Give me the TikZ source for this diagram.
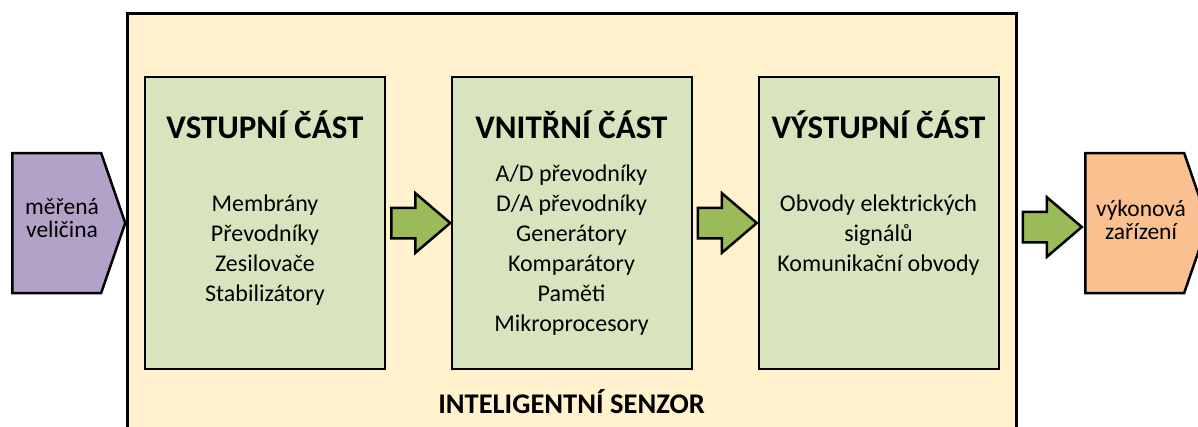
\documentclass[tikz,border=0pt]{standalone}
\usepackage{fontspec}
\setmainfont{Carlito}
\usetikzlibrary{shapes.arrows, shapes.symbols, calc}

\definecolor{senzorfill}{HTML}{FFF2CC}
\definecolor{partfill}{HTML}{D7E4BD}
\definecolor{arrowfill}{HTML}{9BBB59}
\definecolor{inputfill}{HTML}{B3A2C7}
\definecolor{outputfill}{HTML}{FAC090}

\begin{document}
\begin{tikzpicture}[x = 1pt, y = -1pt,
        partbox/.style = {draw, line width = 2pt, fill = partfill, minimum width = 240pt, minimum height = 292pt, inner sep = 0pt},
        parttitle/.style = {font = \bfseries\fontsize{33}{38}\selectfont},
        partlist/.style = {align = center, font = \fontsize{24}{30}\selectfont},
        blockarrow/.style = {single arrow, draw, line width = 2.5pt, fill = arrowfill, minimum height = 59pt, single arrow head extend = 14.5pt, single arrow tip angle = 81, inner sep = 0pt, anchor = west},
        endbox/.style = {signal, signal to = east, draw, line width = 2.5pt, minimum height = 140pt, signal pointer angle = 142, inner sep = 0pt, anchor = west},
        endtext/.style = {align = center, font = \fontsize{23.5}{23}\selectfont}]
    \useasboundingbox (0, 0) rectangle (1198, 426);
    \clip (0, 0) rectangle (1198, 426);

    \node [draw, line width = 3pt, fill = senzorfill, minimum width = 889pt, minimum height = 428pt] (senzor) at (571.5, 227) {};
    \node [font = \bfseries\fontsize{28.5}{33}\selectfont] (senzorT) at (571.5, 402) {INTELIGENTNÍ SENZOR};

    \node [partbox] (vstup) at (265, 223) {};
    \node [partbox] (vnitr) at (571.5, 223) {};
    \node [partbox] (vystup) at (878.5, 223) {};

    \node [parttitle] (vstupT) at ([yshift = -49pt] vstup.north) {VSTUPNÍ ČÁST};
    \node [parttitle] (vnitrT) at ([yshift = -49pt] vnitr.north) {VNITŘNÍ ČÁST};
    \node [parttitle] (vystupT) at ([yshift = -49pt] vystup.north) {VÝSTUPNÍ ČÁST};

    \node [partlist] (vstupL) at (265, 250) {Membrány\\Převodníky\\Zesilovače\\Stabilizátory};
    \node [partlist] (vnitrL) at (571.5, 250) {A/D převodníky\\D/A převodníky\\Generátory\\Komparátory\\Paměti\\Mikroprocesory};
    \node [partlist] (vystupL) at (878.5, 235) {Obvody elektrických\\signálů\\Komunikační obvody};

    \node [endbox, fill = inputfill, minimum width = 113pt] (velicina) at (11, 223) {};
    \node [endtext] (velicinaT) at (62, 218) {měřená\\veličina};
    \node [endbox, fill = outputfill, minimum width = 123pt] (zarizeni) at (1084, 223) {};
    \node [endtext] (zarizeniT) at (1141, 220) {výkonová\\zařízení};

    \node [blockarrow] (sipka1) at ([xshift = 4pt] vstup.east) {\rule{0pt}{28pt}};
    \node [blockarrow] (sipka2) at ([xshift = 4pt] vnitr.east) {\rule{0pt}{28pt}};
    \node [blockarrow] (sipka3) at ([xshift = 4pt] senzor.east) {\rule{0pt}{28pt}};
\end{tikzpicture}
\end{document}
